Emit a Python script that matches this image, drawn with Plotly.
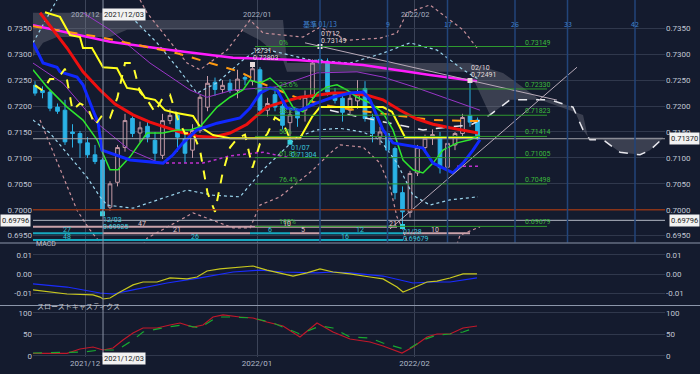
import plotly.graph_objects as go

# ---------------- data (bar index 0 = 2021/11/22, daily bars) ----------------
opens = [.7240, .7230, .7227, .7198, .7192, .7150, .7147, .7129, .7106, .7096,
         .7005, .7053, .7120, .7176, .7148, .7161, .7134, .7105, .7172, .7182,
         .7137, .7115, .7153, .7198, .7246, .7232, .7244, .7230, .7255, .7248,
         .7270, .7192, .7222, .7200, .7168, .7190, .7192, .7217, .7290, .7286,
         .7225, .7215, .7192, .7210, .7234, .7178, .7140, .7147, .7118, .7033,
         .6995, .7071, .7120, .7138, .7141, .7082, .7125, .7147, .7182, .7173]
highs = [.7248, .7238, .7232, .7205, .7212, .7165, .7152, .7140, .7125, .7100,
         .7055, .7125, .7185, .7180, .7170, .7170, .7150, .7185, .7195, .7188,
         .7145, .7165, .7222, .7258, .7255, .7250, .7252, .7270, .7262, .7280,
         .7275, .7216, .7237, .7205, .7195, .7192, .7230, .7290, .7315, .7292,
         .7235, .7225, .7228, .7250, .7248, .7185, .7160, .7152, .7122, .7045,
         .7075, .7125, .7145, .7155, .7150, .7135, .7150, .7185, .7249, .7178]
lows = [.7220, .7215, .7190, .7185, .7125, .7120, .7100, .7100, .7088, .6993,
        .6998, .7045, .7112, .7140, .7130, .7130, .7095, .7098, .7165, .7112,
        .7090, .7100, .7148, .7190, .7220, .7225, .7225, .7215, .7240, .7240,
        .7185, .7180, .7190, .7155, .7130, .7160, .7170, .7210, .7270, .7220,
        .7205, .7170, .7185, .7195, .7170, .7130, .7125, .7105, .7020, .6968,
        .6985, .7065, .7110, .7125, .7070, .7075, .7115, .7140, .7160, .7135]
closes = [.7225, .7226, .7196, .7190, .7131, .7147, .7129, .7106, .7093, .7000,
          .7050, .7120, .7172, .7147, .7158, .7140, .7109, .7172, .7182, .7140,
          .7109, .7153, .7217, .7244, .7232, .7240, .7230, .7252, .7252, .7272,
          .7192, .7205, .7198, .7163, .7183, .7177, .7217, .7283, .7283, .7227,
          .7211, .7188, .7215, .7222, .7176, .7147, .7150, .7115, .7033, .6996,
          .7070, .7120, .7138, .7145, .7081, .7128, .7147, .7178, .7169, .7137]
bars = list(range(len(closes)))

# lagging span (yellow dashed)
chikou = [.7240, .7230, .7252, .7252, .7272, .7192, .7205, .7198, .7163, .7183,
          .7177, .7217, .7283, .7283, .7227, .7211, .7188, .7215, .7222, .7176,
          .7147, .7150, .7115, .7033, .6996, .7070, .7120, .7138, .7145, .7081,
          .7128, .7147, .7178, .7169, .7137]

red_x = [0.67, 4.27, 6.4, 8.67, 10.67, 13.07, 15.33, 17.33, 19.33, 21.6, 23.73, 26, 28.27, 30,
         30.93, 33.07, 35.33, 37.6, 39.73, 42, 44.27, 46.4, 48.67, 50.93, 53.07, 55.33, 57.6, 59.07]
red_y = [.7380, .7312, .7266, .7231, .7204, .7183, .7169, .7160, .7150, .7142, .7140, .7148, .7165, .7187,
         .7198, .7208, .7217, .7221, .7225, .7225, .7221, .7212, .7192, .7175, .7165, .7158, .7152, .7148]

magenta_x = [-0.27, 10, 18, 26.4, 34.93, 43.73, 52.67, 58.93]
magenta_y = [.7356, .7324, .7308, .7293, .7289, .7279, .7260, .7248]

orange_x = [-0.27, 8.67, 18.93, 27.33, 30.4, 34.93, 39.33, 43.73, 48.67, 53.07, 59.07]
orange_y = [.7354, .7333, .7302, .7266, .7243, .7216, .7200, .7190, .7181, .7173, .7171]

yellow_x = [1.33, 3.33, 4.67, 6, 6.4, 7.6, 9.07, 10.93, 12.27, 14, 14.67, 16, 17.33, 18.67, 21.07, 22,
            23.73, 26, 35.33, 36.93, 38, 46.4, 47.6, 49.33, 59.07]
yellow_y = [.7381, .7372, .7337, .7333, .7312, .7312, .7275, .7273, .7235, .7231, .7216, .7212, .7192,
            .7187, .7181, .7160, .7144, .7138, .7138, .7179, .7198, .7198, .7189, .7140, .7140]

blue_x = [-0.27, 1.07, 2.93, 3.33, 5.6, 6.4, 7.73, 8.4, 8.93, 12.67, 17.07, 18.4, 19.73, 21.6, 24.27,
          27.33, 28.67, 30, 31.33, 32.27, 33.6, 35.33, 37.6, 39.73, 42, 43.73, 44.67, 46.4, 47.73,
          49.6, 51.73, 53.07, 54.93, 55.73, 57.07, 58.4, 59.33]
blue_y = [.7322, .7283, .7275, .7266, .7256, .7241, .7192, .7169, .7115, .7096, .7090, .7106, .7129,
          .7154, .7167, .7177, .7196, .7225, .7235, .7231, .7196, .7192, .7206, .7217, .7225, .7227,
          .7212, .7154, .7129, .7125, .7119, .7090, .7077, .7071, .7090, .7115, .7135]

green_x = [-0.27, 1.6, 4.27, 6.4, 8.27, 10, 11.07, 12.67, 14.93, 17.07, 18.93, 20.67, 22, 24.27, 26,
           27.73, 28.67, 30, 31.33, 33.07, 34.4, 35.73, 37.6, 38.93, 40.27, 41.6, 42.93, 44.67, 46.4,
           47.73, 49.07, 50.4, 51.73, 53.07, 54.4, 56.27, 58, 59.33]
green_y = [.7270, .7237, .7198, .7173, .7135, .7077, .7077, .7102, .7148, .7148, .7154, .7154, .7160,
           .7198, .7217, .7231, .7250, .7244, .7254, .7231, .7198, .7189, .7225, .7237, .7241, .7231,
           .7217, .7206, .7187, .7154, .7096, .7077, .7071, .7090, .7115, .7129, .7135, .7144]

purple_up_x = [6.4, 10, 15.33, 20.67, 22.93, 26.4, 32.27, 37.6, 42.93, 46.4, 50.93, 55.33, 59.33]
purple_up_y = [.7380, .7347, .7283, .7231, .7217, .7231, .7237, .7264, .7266, .7256, .7235, .7212, .7192]
purple_lo_x = [-0.27, 3.73, 8.27, 12.67, 16.67]
purple_lo_y = [.7283, .7244, .7167, .7115, .7090]
purple_dot_x = [16.67, 22.4, 26, 30.4, 34, None, 56.27, 59.33]
purple_dot_y = [.7090, .7090, .7104, .7111, .7100, None, .7084, .7084]

bb2_up_x = [-0.27, 2, 2.93, None, 12.27, 16.27, 18.93, 21.6, 24.27, 27.73, 30, 34, 36.67, 42, 46.4,
            50, 53.6, 57.07, 59.33]
bb2_up_y = [.7322, .7380, .7405, None, .7380, .7322, .7275, .7225, .7245, .7289, .7312, .7298, .7289,
            .7283, .7302, .7322, .7308, .7270, .7250]
bb2_lo_x = [-0.27, 2, 4.27, 6.93, 8.67, 9.6, 13.07, 17.6, 20.27, 23.73, 27.33, 30.4, 32.67, 34.93,
            37.6, 40.67, 43.73, 46, 48.27, 50.4, 52.67, 55.33, 59.07]
bb2_lo_y = [.7173, .7148, .7109, .7063, .7025, .7009, .7003, .7025, .7038, .7028, .7025, .7077, .7109,
            .7140, .7154, .7157, .7150, .7135, .7090, .7028, .7009, .7019, .7025]
bb3_up_x = [14, 14.93, 20.27, 22, 25.6, 27.33, 28.67, 30.4, 35.73, 38, 41.6, 46, 48.27, 49.6, 52.67,
            57.07, 58.93]
bb3_up_y = [.7405, .7380, .7283, .7270, .7308, .7341, .7366, .7341, .7333, .7352, .7327, .7331, .7341,
            .7380, .7395, .7347, .7312]
bb3_lo_x = [0.67, 4.27, 5.6, 7.33, 8.67, 10, None, 14, 14.93, 21.07, 24.27, 26.4, 28.67, 30, 32.67,
            34.93, 37.07, 39.33, 40.67, 43.73, 46, 47.33, 48.27, 49.07, 50, None, 56, 56.67, 59.33]
bb3_lo_y = [.7173, .7044, .6999, .6961, .6936, .6913, None, .6922, .6945, .6994, .6976, .6965, .6965,
            .7009, .7025, .7052, .7077, .7109, .7125, .7121, .7090, .7044, .6986, .6961, .6922, None,
            .6922, .6951, .6967]

# cloud (leading spans) incl. 26-bar projection
cloud_top_x = [-0.27, 12, 12.27, 33.07, 33.6, 58, 62.4, 67.33, 73.07, 73.73, 83.73]
cloud_top_y = [.7380, .7380, .7366, .7366, .7283, .7283, .7264, .7212, .7183, .7140, .7140]
cloud_bot_x = [-0.27, 1.07, 2.93, 10, 12.27, 27.33, 30, 33.07, 33.6, 58, 60.67, 63.33, 68.67, 70,
               71.73, 73.07, 74, 75.73, 78, 80.67, 82, 83.73]
cloud_bot_y = [.7295, .7322, .7333, .7333, .7347, .7347, .7327, .7289, .7266, .7266, .7183, .7212,
               .7212, .7206, .7198, .7154, .7135, .7135, .7111, .7106, .7115, .7138]
span_dash_x = [39.33, 42, 47.33, 51.73, 55.33, 58, 60.67, 63.33, 68.67, 70, 71.73, 73.07, 74, 75.73,
               78, 80.67, 82, 83.73]
span_dash_y = [.7192, .7183, .7167, .7154, .7160, .7163, .7183, .7212, .7212, .7206, .7198, .7154,
               .7135, .7135, .7111, .7106, .7115, .7138]

# MACD panel
macd_x = [-0.27, 2, 4.27, 7.73, 8.67, 9.07, 10, 11.33, 13.07, 14.4, 16.27, 18, 20.27, 21.6, 22.93,
          24.67, 26.4, 29.07, 30.93, 32.67, 34.4, 36.27, 38, 39.73, 42, 44.67, 46.4, 48.27, 49.07,
          50.4, 52.27, 53.6, 55.33, 57.07, 58.93]
macd_y = [-.0081, -.0092, -.0102, -.0107, -.0118, -.0128, -.0123, -.0092, -.0055, -.0040, -.0040,
          -.0019, -.0024, -.0014, .0017, .0028, .0033, .0043, .0022, .0007, -.0009, .0007, .0028,
          .0012, .0002, -.0014, -.0024, -.0066, -.0092, -.0071, -.0040, -.0035, -.0019, .0002, .0002]
signal_x = [-0.27, 4.27, 8.67, 10.4, 13.07, 17.6, 22, 26.4, 30, 33.07, 37.6, 39.73, 42, 46.4, 50.4,
            53.07, 55.33, 58.93]
signal_y = [-.0050, -.0066, -.0097, -.0102, -.0081, -.0045, -.0019, .0012, .0022, .0012, .0007, .0012,
            .0007, -.0009, -.0045, -.0040, -.0040, -.0019]

# slow stochastics panel
k_x = [-0.27, 4.27, 6, 7.73, 9.07, 10.4, 11.73, 13.07, 14.4, 16.27, 18, 19.33, 21.07, 22.4, 23.73,
       25.07, 27.33, 29.07, 30.93, 33.07, 35.33, 37.6, 39.73, 42, 44.67, 46.4, 48.93, 50.4, 52.27,
       53.6, 55.33, 57.07, 58.93]
k_y = [5.6, 5.6, 15.6, 20.2, 13.3, 17.9, 36.5, 52.8, 64.4, 64.4, 71.4, 76.0, 66.7, 71.4, 90.0, 94.7,
       90.0, 87.7, 78.4, 69.1, 43.5, 76.0, 55.1, 38.8, 31.9, 22.6, 6.3, 20.2, 43.5, 50.5, 50.5, 64.4, 69.1]
d_x = [-0.27, 6.4, 8.67, 10.93, 13.07, 14.4, 17.6, 19.73, 22, 24.27, 26.4, 29.07, 31.73, 35.33, 38,
       39.73, 42, 44.67, 46.4, 49.6, 51.73, 53.6, 55.33, 57.07, 58.93]
d_y = [6.3, 8.6, 13.3, 13.3, 36.5, 55.1, 66.7, 71.4, 64.4, 90.0, 90.0, 87.7, 76.0, 50.5, 69.1, 64.4,
       43.5, 41.2, 29.5, 13.3, 36.5, 48.1, 50.5, 55.1, 66.7]

# Fibonacci retracement (01/12 high -> 01/28 low)
fib_levels = [0.73149, 0.72330, 0.71823, 0.71414, 0.71005, 0.70498, 0.69679]
fib_pct = ["0%", "23.6%", "38.2%", "50%", "61.8%", "76.4%", "100%"]
fib_span = [29.33, 68.27]

# swing highs / lows
peak_idx = [29, 38, 58]
peak_val = [0.72803, 0.73149, 0.72491]
peak_date = ["12/31", "01/12", "02/10"]
trough_idx = [9, 34, 49]
trough_val = [0.69925, 0.71304, 0.69679]
trough_date = ["12/03", "01/07", "01/28"]

# trend lines
down_tl_x = [36, 69.6]
down_tl_y = [0.7322, 0.72115]
up_tl_x = [47.33, 72.27]
up_tl_y = [0.6963, 0.7275]

# bar-count lines at the bottom of the price panel
count_rows = [0.69673, 0.69545, 0.69416]
count_pink = [(-0.27, 48.27, 0), (9.07, 28.67, 1), (34, 38, 1), (49.07, 58, 1)]
count_cyan = [(-0.27, 9.07, 1), (28.67, 34, 1), (38, 49.07, 1), (-0.27, 49.07, 2)]
count_labels = [(14.27, 0, "47", "p"), (33.6, 0, "10", "p"), (47.73, 0, "21", "p"),
                (4.27, 1, "27", "c"), (18.93, 1, "21", "p"), (31.33, 1, "6", "c"),
                (35.73, 1, "5", "p"), (43.33, 1, "12", "c"), (53.33, 1, "10", "p"),
                (4.27, 2, "48", "c"), (21.33, 2, "26", "c"), (41.33, 2, "16", "c")]

# axes / reference lines
month_idx = [6.67, 29.6, 50.6]
month_text = ["2021/12", "2022/01", "2022/02"]
cycle_idx = [38, 47, 55, 64, 71, 80]
cycle_text = ["基準 01/13", "9", "17", "26", "33", "42"]
price_ticks = [0.695, 0.700, 0.705, 0.710, 0.715, 0.720, 0.725, 0.730, 0.735]
macd_ticks = [-0.01, 0.0, 0.01]
stoch_ticks = [0, 50, 100]
round_level = 0.7000
last_price = 0.71370
cursor_price = 0.69796
cursor_idx = 9.07
cursor_date = "2021/12/03"

# ---------------- figure ----------------
BG = "#141b2e"
FONT = "Roboto"
fig = go.Figure()


def line(x, y, color, width=1.0, dash=None, xa="x", ya="y"):
    fig.add_trace(go.Scatter(x=x, y=y, mode="lines", xaxis=xa, yaxis=ya,
                             line=dict(color=color, width=width, dash=dash),
                             hoverinfo="skip", showlegend=False, connectgaps=False))


# cloud
fig.add_trace(go.Scatter(x=cloud_top_x + cloud_bot_x[::-1], y=cloud_top_y + cloud_bot_y[::-1],
                         fill="toself", fillcolor="rgba(150,150,160,0.30)", mode="lines",
                         line=dict(width=0), hoverinfo="skip", showlegend=False))

# candles
fig.add_trace(go.Candlestick(x=bars, open=opens, high=highs, low=lows, close=closes,
                             increasing=dict(line=dict(color="#c49aa6", width=1), fillcolor=BG),
                             decreasing=dict(line=dict(color="#2ab2e6", width=1), fillcolor="#2ab2e6"),
                             whiskerwidth=0, hoverinfo="skip", showlegend=False))

# bands and averages
line(bb3_up_x, bb3_up_y, "#c8909a", 1.2, "dot")
line(bb3_lo_x, bb3_lo_y, "#c8909a", 1.2, "dot")
line(bb2_up_x, bb2_up_y, "#9ad4ec", 1.2, "dot")
line(bb2_lo_x, bb2_lo_y, "#9ad4ec", 1.2, "dot")
line(purple_up_x, purple_up_y, "#9a36c8", 1.0)
line(purple_lo_x, purple_lo_y, "#9a36c8", 1.0)
line(purple_dot_x, purple_dot_y, "#c030d0", 1.5, "dot")
line(span_dash_x, span_dash_y, "#e8e8ee", 1.5, "dash")
line(magenta_x, magenta_y, "#ff1cff", 2.5)
line(orange_x, orange_y, "#ff9a10", 2.0, "dash")
line(red_x, red_y, "#ee1010", 3.0)
line(yellow_x, yellow_y, "#ffff1a", 2.0)
line(green_x, green_y, "#2ee62e", 1.5)
line(blue_x, blue_y, "#1028ff", 3.0)
line(list(range(len(chikou))), chikou, "#ffff30", 2.0, "dash")

# trend lines
line(down_tl_x, down_tl_y, "#b8aab8", 1.0)
line(up_tl_x, up_tl_y, "#b8aab8", 1.0)

# count lines
for x0, x1, r in count_pink:
    line([x0, x1], [count_rows[r]] * 2, "#c9a2aa", 2.0)
for x0, x1, r in count_cyan:
    line([x0, x1], [count_rows[r]] * 2, "#17a8bf", 2.0)

# swing markers
fig.add_trace(go.Scatter(x=peak_idx, y=peak_val, mode="markers",
                         marker=dict(symbol="square", size=5, color="#e6dada"),
                         hoverinfo="skip", showlegend=False))
fig.add_trace(go.Scatter(x=trough_idx, y=trough_val, mode="markers",
                         marker=dict(symbol="square", size=5, color="#35d0e0"),
                         hoverinfo="skip", showlegend=False))

# MACD & stochastics
line(signal_x, signal_y, "#1a2cff", 1.2, xa="x2", ya="y2")
line(macd_x, macd_y, "#c8c81e", 1.2, xa="x2", ya="y2")
line(k_x, k_y, "#c0182a", 1.2, xa="x3", ya="y3")
line(d_x, d_y, "#18a830", 1.2, "dash", xa="x3", ya="y3")

# invisible traces to render the mirrored left axes
for ya, v in (("y4", 0.72), ("y5", 0.0), ("y6", 50)):
    fig.add_trace(go.Scatter(x=[0], y=[v], xaxis="x", yaxis=ya, mode="markers",
                             marker=dict(opacity=0), hoverinfo="skip", showlegend=False))

shapes = []
ann = []
SMALL = 7

# Fibonacci
for lvl, pct in zip(fib_levels, fib_pct):
    shapes.append(dict(type="line", xref="x", yref="y", x0=fib_span[0], x1=fib_span[1], y0=lvl, y1=lvl,
                       line=dict(color="#2f9a2f", width=1)))
    ann.append(dict(x=fib_span[1] - 3.2, y=lvl, xref="x", yref="y", text=f"{lvl:.5f}", showarrow=False,
                    xanchor="left", yanchor="bottom", yshift=-2, font=dict(size=SMALL, color="#3cb83c")))
    ann.append(dict(x=32.27, y=lvl, xref="x", yref="y", text=pct, showarrow=False,
                    xanchor="left", yanchor="bottom", yshift=-2, font=dict(size=SMALL, color="#3cb83c")))

# horizontal references
shapes.append(dict(type="line", xref="paper", yref="y", x0=0, x1=1, y0=round_level, y1=round_level,
                   line=dict(color="#8a3418", width=1.5)))
shapes.append(dict(type="line", xref="paper", yref="y", x0=0, x1=1, y0=last_price, y1=last_price,
                   line=dict(color="#a2a2aa", width=1)))
shapes.append(dict(type="line", xref="paper", yref="y", x0=0, x1=1, y0=cursor_price, y1=cursor_price,
                   line=dict(color="#b4b8c4", width=1)))
# cycle lines
MAIN_DOM = [0.3207, 1.0]
for ci, ct in zip(cycle_idx, cycle_text):
    shapes.append(dict(type="line", xref="x", yref="paper", x0=ci, x1=ci, y0=MAIN_DOM[0], y1=1,
                       line=dict(color="#22457a", width=1.5)))
    ann.append(dict(x=ci, y=0.9524, xref="x", yref="paper", text=ct, showarrow=False,
                    font=dict(size=SMALL, color="#3f82cc", family="Noto Sans CJK JP")))
# cursor vertical
shapes.append(dict(type="line", xref="x", yref="paper", x0=cursor_idx, x1=cursor_idx, y0=0, y1=1,
                   line=dict(color="#8a92a4", width=1)))
# panel separators
for yy in (0.3193, 0.1443):
    shapes.append(dict(type="line", xref="paper", yref="paper", x0=-0.06, x1=1.06, y0=yy, y1=yy,
                       line=dict(color="#8c96aa", width=1.2)))

# swing labels
for i, v, d in zip(peak_idx, peak_val, peak_date):
    ann.append(dict(x=i - 0.2, y=v, text=d, showarrow=False, xanchor="left", yshift=13,
                    font=dict(size=SMALL, color="#e0dada")))
    ann.append(dict(x=i - 0.2, y=v, text=f"{v:.5f}", showarrow=False, xanchor="left", yshift=6,
                    font=dict(size=SMALL, color="#e0dada")))
for i, v, d in zip(trough_idx, trough_val, trough_date):
    ann.append(dict(x=i - 0.2, y=v, text=d, showarrow=False, xanchor="left", yshift=-6,
                    font=dict(size=SMALL, color="#3cc6dc")))
    ann.append(dict(x=i - 0.2, y=v, text=f"{v:.5f}", showarrow=False, xanchor="left", yshift=-13,
                    font=dict(size=SMALL, color="#3cc6dc")))

# count labels
for xi, r, t, c in count_labels:
    ann.append(dict(x=xi, y=count_rows[r], text=t, showarrow=False, yanchor="bottom", yshift=-3,
                    font=dict(size=SMALL, color="#e2c6cc" if c == "p" else "#36c4d4")))

# month labels on top, cursor date boxes
for mi, mt in zip(month_idx, month_text):
    ann.append(dict(x=mi, y=0.9776, xref="x", yref="paper", text=mt, showarrow=False,
                    font=dict(size=SMALL + 0.5, color="#a8b0c0")))
for yy in (0.9776, -0.0224):
    ann.append(dict(x=cursor_idx - 0.1, y=yy, xref="x", yref="paper", text=cursor_date, showarrow=False,
                    xanchor="left", bgcolor="#f2f2f2", font=dict(size=SMALL + 0.5, color="#1a1a1a"),
                    borderpad=1))
# price boxes
ann.append(dict(x=-0.052, y=cursor_price, xref="paper", yref="y", text=f"{cursor_price:.5f}",
                showarrow=False, xanchor="left", bgcolor="#f2f2f2",
                font=dict(size=SMALL + 0.5, color="#1a1a1a"), borderpad=1))
for p in (cursor_price, last_price):
    ann.append(dict(x=1.0554, y=p, xref="paper", yref="y", text=f"{p:.5f}", showarrow=False,
                    xanchor="right", bgcolor="#f2f2f2", font=dict(size=SMALL + 0.5, color="#1a1a1a"),
                    borderpad=1))
# panel titles
ann.append(dict(x=0.002, y=0.2997, xref="paper", yref="paper", text="MACD", showarrow=False,
                xanchor="left", font=dict(size=SMALL, color="#c0c4cc")))
ann.append(dict(x=0.003, y=0.1232, xref="paper", yref="paper", text="スローストキャスティクス",
                showarrow=False, xanchor="left",
                font=dict(size=SMALL, color="#c0c4cc", family="Noto Sans CJK JP")))

GRID = "#30384c"
TICKF = dict(size=8, color="#c0c6d4", family=FONT)
xcommon = dict(range=[-0.267, 84.0], tickvals=month_idx, showgrid=True, gridcolor="#3c4458",
               zeroline=False, showticklabels=False, ticks="", automargin=False)
ycommon = dict(showgrid=True, gridcolor=GRID, zeroline=False, ticks="", tickfont=TICKF, automargin=False)
yleft = dict(showgrid=False, zeroline=False, ticks="", tickfont=TICKF, automargin=False, side="left")

fig.update_layout(
    width=700, height=374, margin=dict(l=33, r=35, t=0, b=17, autoexpand=False),
    paper_bgcolor=BG, plot_bgcolor=BG, font=dict(family=FONT, size=8, color="#c0c6d4"),
    showlegend=False, hovermode=False,
    xaxis=dict(**xcommon, anchor="y", rangeslider=dict(visible=False)),
    xaxis2=dict(**xcommon, anchor="y2", matches="x"),
    xaxis3=dict(range=[-0.267, 84.0], tickvals=month_idx, ticktext=month_text, showgrid=True,
                gridcolor="#3c4458", zeroline=False, showticklabels=True, ticks="", anchor="y3",
                matches="x", automargin=False, tickfont=dict(size=8, color="#b0b8c8", family=FONT)),
    yaxis=dict(**ycommon, domain=MAIN_DOM, range=[0.69368, 0.74046], side="right",
               tickvals=price_ticks, ticktext=[f"{t:.4f}" for t in price_ticks]),
    yaxis4=dict(**yleft, overlaying="y", range=[0.69368, 0.74046],
                tickvals=price_ticks, ticktext=[f"{t:.4f}" for t in price_ticks]),
    yaxis2=dict(**ycommon, domain=[0.1457, 0.3179], range=[-0.0159, 0.01595], side="right",
                tickvals=macd_ticks, ticktext=["-0.01", "0.00", "0.01"]),
    yaxis5=dict(**yleft, overlaying="y2", range=[-0.0159, 0.01595],
                tickvals=macd_ticks, ticktext=["-0.01", "0.00", "0.01"]),
    yaxis3=dict(**ycommon, domain=[0.0, 0.1429], range=[-3, 115.6], side="right",
                tickvals=stoch_ticks, ticktext=["0", "50", "100"]),
    yaxis6=dict(**yleft, overlaying="y3", range=[-3, 115.6],
                tickvals=stoch_ticks, ticktext=["0", "50", "100"]),
    shapes=shapes, annotations=ann,
)

# remove the page's default body margin so the chart sits at the window's top-left corner
fig.write_html("out.html",
               config={"displayModeBar": False, "staticPlot": True},
               post_script="document.body.style.margin='0';document.body.style.overflow='hidden';"
                           f"document.body.style.background='{BG}';")
